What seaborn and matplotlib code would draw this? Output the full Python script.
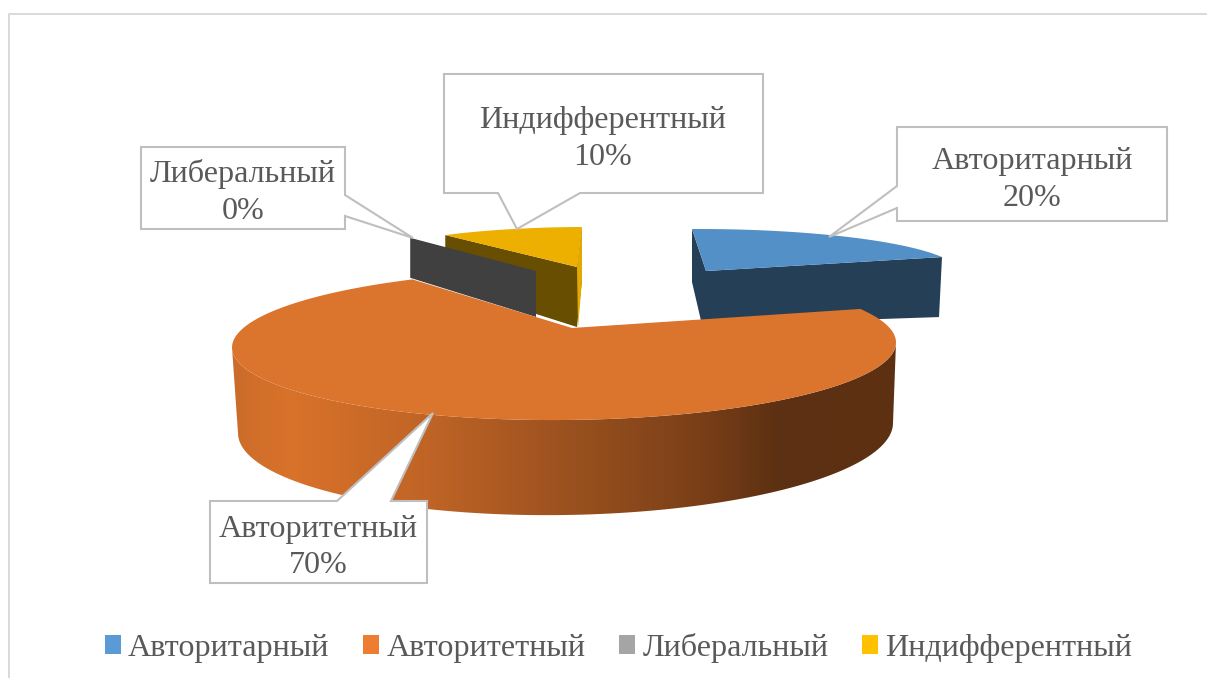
import numpy as np
import matplotlib
matplotlib.use("Agg")
import matplotlib.pyplot as plt
from matplotlib.colors import to_rgb
from matplotlib.patches import Patch, Polygon
import seaborn as sns

categories = ["Авторитарный", "Авторитетный", "Либеральный", "Индифферентный"]
values = [20, 70, 0, 10]
legend_colors = ["#5B9BD5", "#ED7D31", "#A5A5A5", "#FFC000"]

sns.set_theme(style="white")
plt.rcParams["font.family"] = ["Liberation Serif", "DejaVu Serif"]

TEXT = "#595959"
EDGE = "#BFBFBF"
FS = 23.1

fig = plt.figure(figsize=(12.07, 6.78), dpi=100, facecolor="white")
ax = fig.add_axes([0, 0, 1, 1])
ax.axis("off")

# frame of the chart area
ax.plot([8.5, 8.5, 1207], [678, 14, 14], color="#D9D9D9", lw=1.4, zorder=1)

# slice angles follow the values, clockwise from twelve o'clock
edges = np.cumsum([0] + values) * 3.6


def rim(i, apex, u, v, centre=(0, 0), stretch=1.0, tilt=0.0, n=160):
    a0, a1 = edges[i], edges[i + 1]
    mid = (a0 + a1) / 2
    th = np.radians(mid + (np.linspace(a0, a1, n) - mid) * stretch)
    x = apex[0] + centre[0] + u[0] * np.sin(th) + v[0] * np.cos(th)
    y = apex[1] + centre[1] + u[1] * np.sin(th) + v[1] * np.cos(th) + tilt * np.sin(th)
    return np.column_stack([x, y])


def wall(i, apex, drop_start, drop_apex, drop_end, **geo):
    r = rim(i, apex, **geo)
    s, e = r[0], r[-1]
    a = np.array(apex, float)
    if values[i] == 0:
        return np.array([s, a, a + drop_apex, s + drop_start])
    return np.array([s, a, e, e + drop_end, a + drop_apex, s + drop_start])


# Авторитарный
g = dict(u=(252.7, -1), v=(-14, -42))
ax.fill(*wall(0, (706, 271), (0, 53), (-4, 54), (-3, 60), **g).T, color="#243F56", lw=0, zorder=2)
top = np.vstack([[706, 271], rim(0, (706, 271), **g)])
ax.fill(*top.T, color="#5490C8", lw=0, zorder=3)

# Индифферентный
g = dict(u=(231, -0.7), v=(5, -40))
ap = (577, 267)
ax.fill(*wall(3, ap, (0, 50), (0, 60), (0, 53), **g).T, color="#674E00", lw=0, zorder=4)
r = rim(3, ap, **g)
sliver = np.array([r[-1], r[-1] + (0, 53), (578, 328), ap])
ax.fill(*sliver.T, color="#E3A900", lw=0, zorder=4)
ax.fill(*np.vstack([ap, r]).T, color="#EDB000", lw=0, zorder=5)

# Либеральный (zero share: only its cut face shows)
ax.fill(*wall(2, (536, 271), (0, 40), (0, 46), (0, 40), u=(214, 0), v=(0, -41)).T,
        color="#404040", lw=0, zorder=6)

# Авторитетный
ap = (572, 328)
g = dict(u=(332, 0), v=(0, -75), centre=(-8, 17), stretch=1.07, tilt=-2.5)

th = np.radians(np.linspace(90, 270, 241))
tx = 564 + 332 * np.sin(th)
ty = 345 - 75 * np.cos(th) - 2.5 * np.sin(th)
bx = 565.5 + 327.5 * np.sin(th)
by = 428 - 87 * np.cos(th) - 5 * np.sin(th)
side = Polygon(np.vstack([np.column_stack([tx, ty]), np.column_stack([bx, by])[::-1]]),
               transform=ax.transData, fill=False, lw=0)
ax.add_patch(side)
stops_x = [232, 290, 430, 500, 600, 700, 780, 896]
stops = np.array([to_rgb(c) for c in
                  ["#CB6C2A", "#D9722A", "#BF6426", "#AD5A22", "#934D1D", "#7A3F18", "#5C3012", "#5E3013"]])
gx = np.linspace(232, 896, 664)
ramp = np.column_stack([np.interp(gx, stops_x, stops[:, c]) for c in range(3)])[None, :, :]
im = ax.imshow(ramp, extent=(232, 896, 520, 340), aspect="auto", interpolation="bilinear", zorder=7)
im.set_clip_path(side)
ax.fill(*np.vstack([ap, rim(1, ap, **g)]).T, color="#DB742C", lw=0, zorder=8)

# call-outs
callouts = [
    ([(897, 127), (1167, 127), (1167, 221), (897, 221), (897, 208), (829, 237), (897, 186)], (1032, 180)),
    ([(210, 501), (337, 501), (433, 413), (391, 501), (427, 501), (427, 583), (210, 583)], (318, 547.5)),
    ([(141, 147), (345, 147), (345, 195), (413, 238), (345, 216), (345, 229), (141, 229)], (243, 192.5)),
    ([(444, 74), (763, 74), (763, 193), (580, 193), (517, 229), (498, 193), (444, 193)], (603, 139)),
]
for i, (shape, pos) in enumerate(callouts):
    ax.fill(*np.array(shape).T, facecolor="white", edgecolor=EDGE, lw=1.5, joinstyle="miter", zorder=10)
    ax.text(pos[0], pos[1], f"{categories[i]}\n{values[i]}%", ha="center", va="center",
            color=TEXT, fontsize=FS, linespacing=1.32, zorder=11)

ax.set_xlim(0, 1207)
ax.set_ylim(678, 0)

handles = [Patch(facecolor=c, edgecolor="none") for c in legend_colors]
leg = ax.legend(handles, categories, ncol=4, loc="center", bbox_to_anchor=(618.5, 648),
                bbox_transform=ax.transData, frameon=False, fontsize=FS, labelcolor=TEXT,
                handlelength=0.5, handleheight=0.5, handletextpad=0.22, columnspacing=1.06,
                borderpad=0, borderaxespad=0)

fig.savefig("out.png", dpi=100, facecolor="white")
